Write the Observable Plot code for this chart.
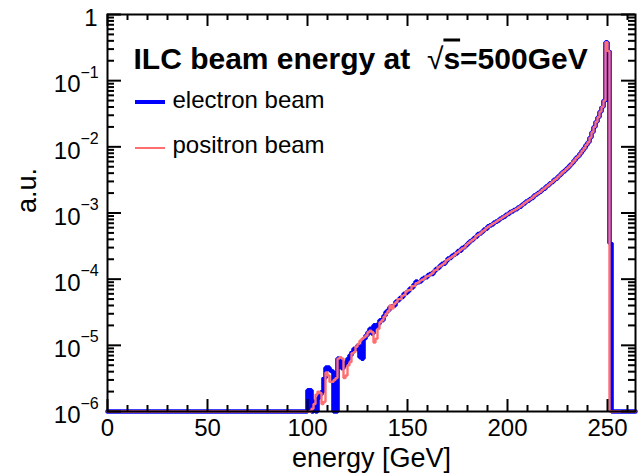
<!DOCTYPE html>
<html><head><meta charset="utf-8">
<script src="https://cdn.jsdelivr.net/npm/d3@7"></script>
<script src="https://cdn.jsdelivr.net/npm/@observablehq/plot@0.6"></script>
<style>
html,body{margin:0;padding:0;background:#fff;}
#chart{width:639px;height:475px;}
</style></head><body><div id="chart"></div>
<script>
// Bin lower edges (GeV), 1 GeV wide bins from 98 to 252
const energyLowEdge = d3.range(98, 253);

// electron beam (a.u.)
const electronBeam = [
  0, 0, 2.1e-6, 2.1e-6, 0, 1.4e-6, 0, 1.6e-6, 1.8e-6, 2.0e-6,            // 98-107
  3.2e-6, 4.6e-6, 4.6e-6, 4.2e-6, 4.0e-6, 0, 0, 6.3e-6, 6.0e-6, 4.5e-6,   // 108-117
  5.0e-6, 5.6e-6, 6.3e-6, 7.1e-6, 7.9e-6, 8.9e-6, 8.9e-6, 1.0e-5, 6.6e-6, 6.3e-6, // 118-127
  1.26e-5, 1.41e-5, 1.58e-5, 1.78e-5, 1.51e-5, 2.0e-5, 1.9e-5, 2.1e-5, 2.4e-5, 2.4e-5, // 128-137
  2.8e-5, 3.2e-5, 3.4e-5, 3.8e-5, 3.9e-5, 4.0e-5, 4.6e-5, 4.8e-5, 5.2e-5, 5.4e-5, // 138-147
  6.0e-5, 6.2e-5, 6.6e-5, 7.2e-5, 7.5e-5, 8.3e-5, 9.2e-5, 9.0e-5, 9.2e-5, 1.0e-4, // 148-157
  1.05e-4, 1.07e-4, 1.15e-4, 1.20e-4, 1.20e-4, 1.32e-4, 1.42e-4, 1.48e-4, 1.60e-4, 1.70e-4, // 158-167
  1.72e-4, 1.88e-4, 2.05e-4, 2.1e-4, 2.25e-4, 2.35e-4, 2.45e-4, 2.65e-4, 2.7e-4, 2.95e-4, // 168-177
  3.05e-4, 3.25e-4, 3.5e-4, 3.75e-4, 3.9e-4, 4.2e-4, 4.4e-4, 4.8e-4, 4.9e-4, 5.2e-4, // 178-187
  5.6e-4, 5.8e-4, 6.3e-4, 6.5e-4, 6.7e-4, 7.2e-4, 7.4e-4, 7.7e-4, 8.2e-4, 8.5e-4, // 188-197
  8.8e-4, 9.4e-4, 9.7e-4, 1.03e-3, 1.06e-3, 1.11e-3, 1.14e-3, 1.21e-3, 1.25e-3, 1.33e-3, // 198-207
  1.40e-3, 1.49e-3, 1.54e-3, 1.63e-3, 1.69e-3, 1.83e-3, 1.90e-3, 2.01e-3, 2.09e-3, 2.25e-3, // 208-217
  2.33e-3, 2.51e-3, 2.62e-3, 2.81e-3, 2.94e-3, 3.17e-3, 3.29e-3, 3.56e-3, 3.79e-3, 4.1e-3, // 218-227
  4.3e-3, 4.6e-3, 4.9e-3, 5.3e-3, 5.7e-3, 6.2e-3, 6.8e-3, 7.2e-3, 7.9e-3, 8.7e-3, // 228-237
  9.5e-3, 1.07e-2, 1.17e-2, 1.38e-2, 1.66e-2, 2.0e-2, 2.4e-2, 2.8e-2, 3.4e-2, 4.0e-2, // 238-247
  5.0e-2, 0.38, 0.28, 3.5e-4, 0                                            // 248-252
];

// positron beam (a.u.)
const positronBeam = [
  0, 0, 0, 0, 1.1e-6, 1.3e-6, 1.8e-6, 2.0e-6, 1.9e-6, 1.3e-6,             // 98-107
  1.4e-6, 3.9e-6, 3.5e-6, 2.8e-6, 2.8e-6, 3.0e-6, 3.2e-6, 6.3e-6, 6.6e-6, 6.3e-6, // 108-117
  3.2e-6, 3.5e-6, 5.0e-6, 5.6e-6, 7.6e-6, 7.9e-6, 9.5e-6, 1.05e-5, 1.17e-5, 1.26e-5, // 118-127
  1.32e-5, 1.41e-5, 1.58e-5, 1.66e-5, 1.58e-5, 1.10e-5, 1.26e-5, 1.78e-5, 2.24e-5, 2.4e-5, // 128-137
  2.7e-5, 3.0e-5, 3.3e-5, 4.0e-5, 3.6e-5, 4.2e-5, 4.5e-5, 5.0e-5, 5.0e-5, 5.6e-5, // 138-147
  5.75e-5, 6.5e-5, 6.8e-5, 6.9e-5, 7.8e-5, 7.9e-5, 8.7e-5, 8.9e-5, 9.5e-5, 9.8e-5, // 148-157
  1.02e-4, 1.10e-4, 1.12e-4, 1.17e-4, 1.23e-4, 1.35e-4, 1.38e-4, 1.51e-4, 1.58e-4, 1.66e-4, // 158-167
  1.74e-4, 1.91e-4, 2.0e-4, 2.1e-4, 2.2e-4, 2.3e-4, 2.5e-4, 2.57e-4, 2.75e-4, 2.9e-4, // 168-177
  3.0e-4, 3.3e-4, 3.5e-4, 3.7e-4, 3.9e-4, 4.1e-4, 4.5e-4, 4.7e-4, 4.9e-4, 5.25e-4, // 178-187
  5.5e-4, 5.9e-4, 6.2e-4, 6.5e-4, 6.8e-4, 7.1e-4, 7.4e-4, 7.8e-4, 8.1e-4, 8.5e-4, // 188-197
  8.9e-4, 9.3e-4, 9.8e-4, 1.02e-3, 1.07e-3, 1.10e-3, 1.15e-3, 1.20e-3, 1.26e-3, 1.32e-3, // 198-207
  1.41e-3, 1.48e-3, 1.55e-3, 1.62e-3, 1.70e-3, 1.82e-3, 1.91e-3, 2.0e-3, 2.1e-3, 2.24e-3, // 208-217
  2.34e-3, 2.5e-3, 2.63e-3, 2.8e-3, 2.95e-3, 3.16e-3, 3.3e-3, 3.55e-3, 3.8e-3, 4.1e-3, // 218-227
  4.3e-3, 4.6e-3, 4.9e-3, 5.25e-3, 5.75e-3, 6.2e-3, 6.8e-3, 7.2e-3, 7.9e-3, 8.7e-3, // 228-237
  9.5e-3, 1.07e-2, 1.17e-2, 1.38e-2, 1.66e-2, 2.0e-2, 2.4e-2, 2.8e-2, 3.4e-2, 4.0e-2, // 238-247
  5.0e-2, 0.38, 0.28, 0, 0                                                 // 248-252
];

const xTickLabels = [0, 50, 100, 150, 200, 250];
const xMinorTicks = [10, 20, 30, 40, 60, 70, 80, 90, 110, 120, 130, 140, 160, 170, 180, 190, 210, 220, 230, 240, 260];
const yTickValues = [1, 1e-1, 1e-2, 1e-3, 1e-4, 1e-5, 1e-6];
const yTickExponents = ["", "\u22121", "\u22122", "\u22123", "\u22124", "\u22125", "\u22126"];
const seriesNames = ["electron beam", "positron beam"];
const seriesColors = ["#0000ff", "#ff6f6f"];
const titleText = "ILC beam energy at \u221As=500GeV";
const xTitle = "energy [GeV]";
const yTitle = "a.u.";

const X_MAX = 264, Y_MIN = 1e-6;

function steps(values) {
  const pts = [{e: 0, v: 0}];
  energyLowEdge.forEach((e, i) => pts.push({e, v: values[i]}));
  pts.push({e: X_MAX, v: 0});
  return pts;
}
const yMinorTicks = [];
for (let k = -6; k < 0; k++) for (let m = 2; m <= 9; m++) yMinorTicks.push(m * Math.pow(10, k));

const W = 639, H = 475, ML = 107, MR = 4, MT = 14, MB = 64;
const FW = W - ML - MR, FH = H - MT - MB;
const ink = "black";

const svg = Plot.plot({
  width: W, height: H,
  marginLeft: ML, marginRight: MR, marginTop: MT, marginBottom: MB,
  style: {fontFamily: "'Liberation Sans', Arial, Helvetica, sans-serif", fontSize: "24px", color: "black", background: "white"},
  x: {domain: [0, X_MAX], axis: null},
  y: {type: "log", domain: [Y_MIN, 1], axis: null},
  marks: [
    Plot.line(steps(electronBeam), {x: "e", y: d => Math.max(d.v, Y_MIN), curve: "step-after", stroke: seriesColors[0], strokeWidth: 4.6, strokeLinejoin: "miter"}),
    Plot.line(steps(positronBeam), {x: "e", y: d => Math.max(d.v, Y_MIN), curve: "step-after", stroke: seriesColors[1], strokeWidth: 2.4, strokeLinejoin: "miter"}),
    Plot.frame({stroke: ink, strokeWidth: 2}),
    // x ticks (bottom & top, inward)
    Plot.tickX(xTickLabels, {x: d => d, insetTop: FH - 12, stroke: ink, strokeWidth: 2}),
    Plot.tickX(xTickLabels, {x: d => d, insetBottom: FH - 12, stroke: ink, strokeWidth: 2}),
    Plot.tickX(xMinorTicks, {x: d => d, insetTop: FH - 6, stroke: ink, strokeWidth: 2}),
    Plot.tickX(xMinorTicks, {x: d => d, insetBottom: FH - 6, stroke: ink, strokeWidth: 2}),
    // y ticks (left & right, inward)
    Plot.tickY(yTickValues, {y: d => d, insetRight: FW - 14, stroke: ink, strokeWidth: 2}),
    Plot.tickY(yTickValues, {y: d => d, insetLeft: FW - 14, stroke: ink, strokeWidth: 2}),
    Plot.tickY(yMinorTicks, {y: d => d, insetRight: FW - 7, stroke: ink, strokeWidth: 2}),
    Plot.tickY(yMinorTicks, {y: d => d, insetLeft: FW - 7, stroke: ink, strokeWidth: 2}),
    // x tick labels
    Plot.text(xTickLabels, {x: d => d, text: d => String(d), frameAnchor: "bottom", lineAnchor: "top", dy: 7, fontSize: 24, fill: ink}),
    // y tick labels
    Plot.text(yTickValues.slice(0, 1), {y: d => d, text: () => "1", frameAnchor: "left", textAnchor: "end", dx: -10, dy: 4, fontSize: 24, fill: ink}),
    Plot.text(yTickValues.slice(1), {y: d => d, text: () => "10", frameAnchor: "left", textAnchor: "end", dx: -27, dy: 4, fontSize: 24, fill: ink}),
    Plot.text(yTickValues.slice(1), {y: d => d, text: (d, i) => yTickExponents[i + 1], frameAnchor: "left", textAnchor: "start", dx: -27, dy: -8, fontSize: 16, fill: ink}),
    // axis titles
    Plot.text([xTitle], {frameAnchor: "bottom", lineAnchor: "bottom", dy: 55, fontSize: 27, fill: ink}),
    Plot.text([yTitle], {frameAnchor: "left", rotate: -90, dx: -80, fontSize: 27, fill: ink}),
    // title & legend labels
    Plot.text([titleText], {frameAnchor: "top-left", textAnchor: "start", lineAnchor: "bottom", dx: 26, dy: 54, fontSize: 30, fontWeight: "bold", fill: ink}),
    Plot.text([seriesNames[0]], {frameAnchor: "top-left", textAnchor: "start", lineAnchor: "bottom", dx: 65, dy: 93, fontSize: 24, fill: ink}),
    Plot.text([seriesNames[1]], {frameAnchor: "top-left", textAnchor: "start", lineAnchor: "bottom", dx: 65, dy: 138, fontSize: 24, fill: ink})
  ]
});

// sqrt overline styling in the title
d3.select(svg).selectAll("text").filter(function() { return this.textContent === titleText; })
  .html("ILC beam energy at&#160;&#160;<tspan font-weight='normal'>\u221A</tspan><tspan text-decoration='overline'>s</tspan>=500GeV");

// legend swatches
const leg = d3.select(svg).append("g");
leg.append("line").attr("x1", 135).attr("x2", 165).attr("y1", 102).attr("y2", 102).attr("stroke", seriesColors[0]).attr("stroke-width", 4);
leg.append("line").attr("x1", 135).attr("x2", 165).attr("y1", 148).attr("y2", 148).attr("stroke", seriesColors[1]).attr("stroke-width", 2);

document.getElementById("chart").appendChild(svg);
</script>
</body></html>
